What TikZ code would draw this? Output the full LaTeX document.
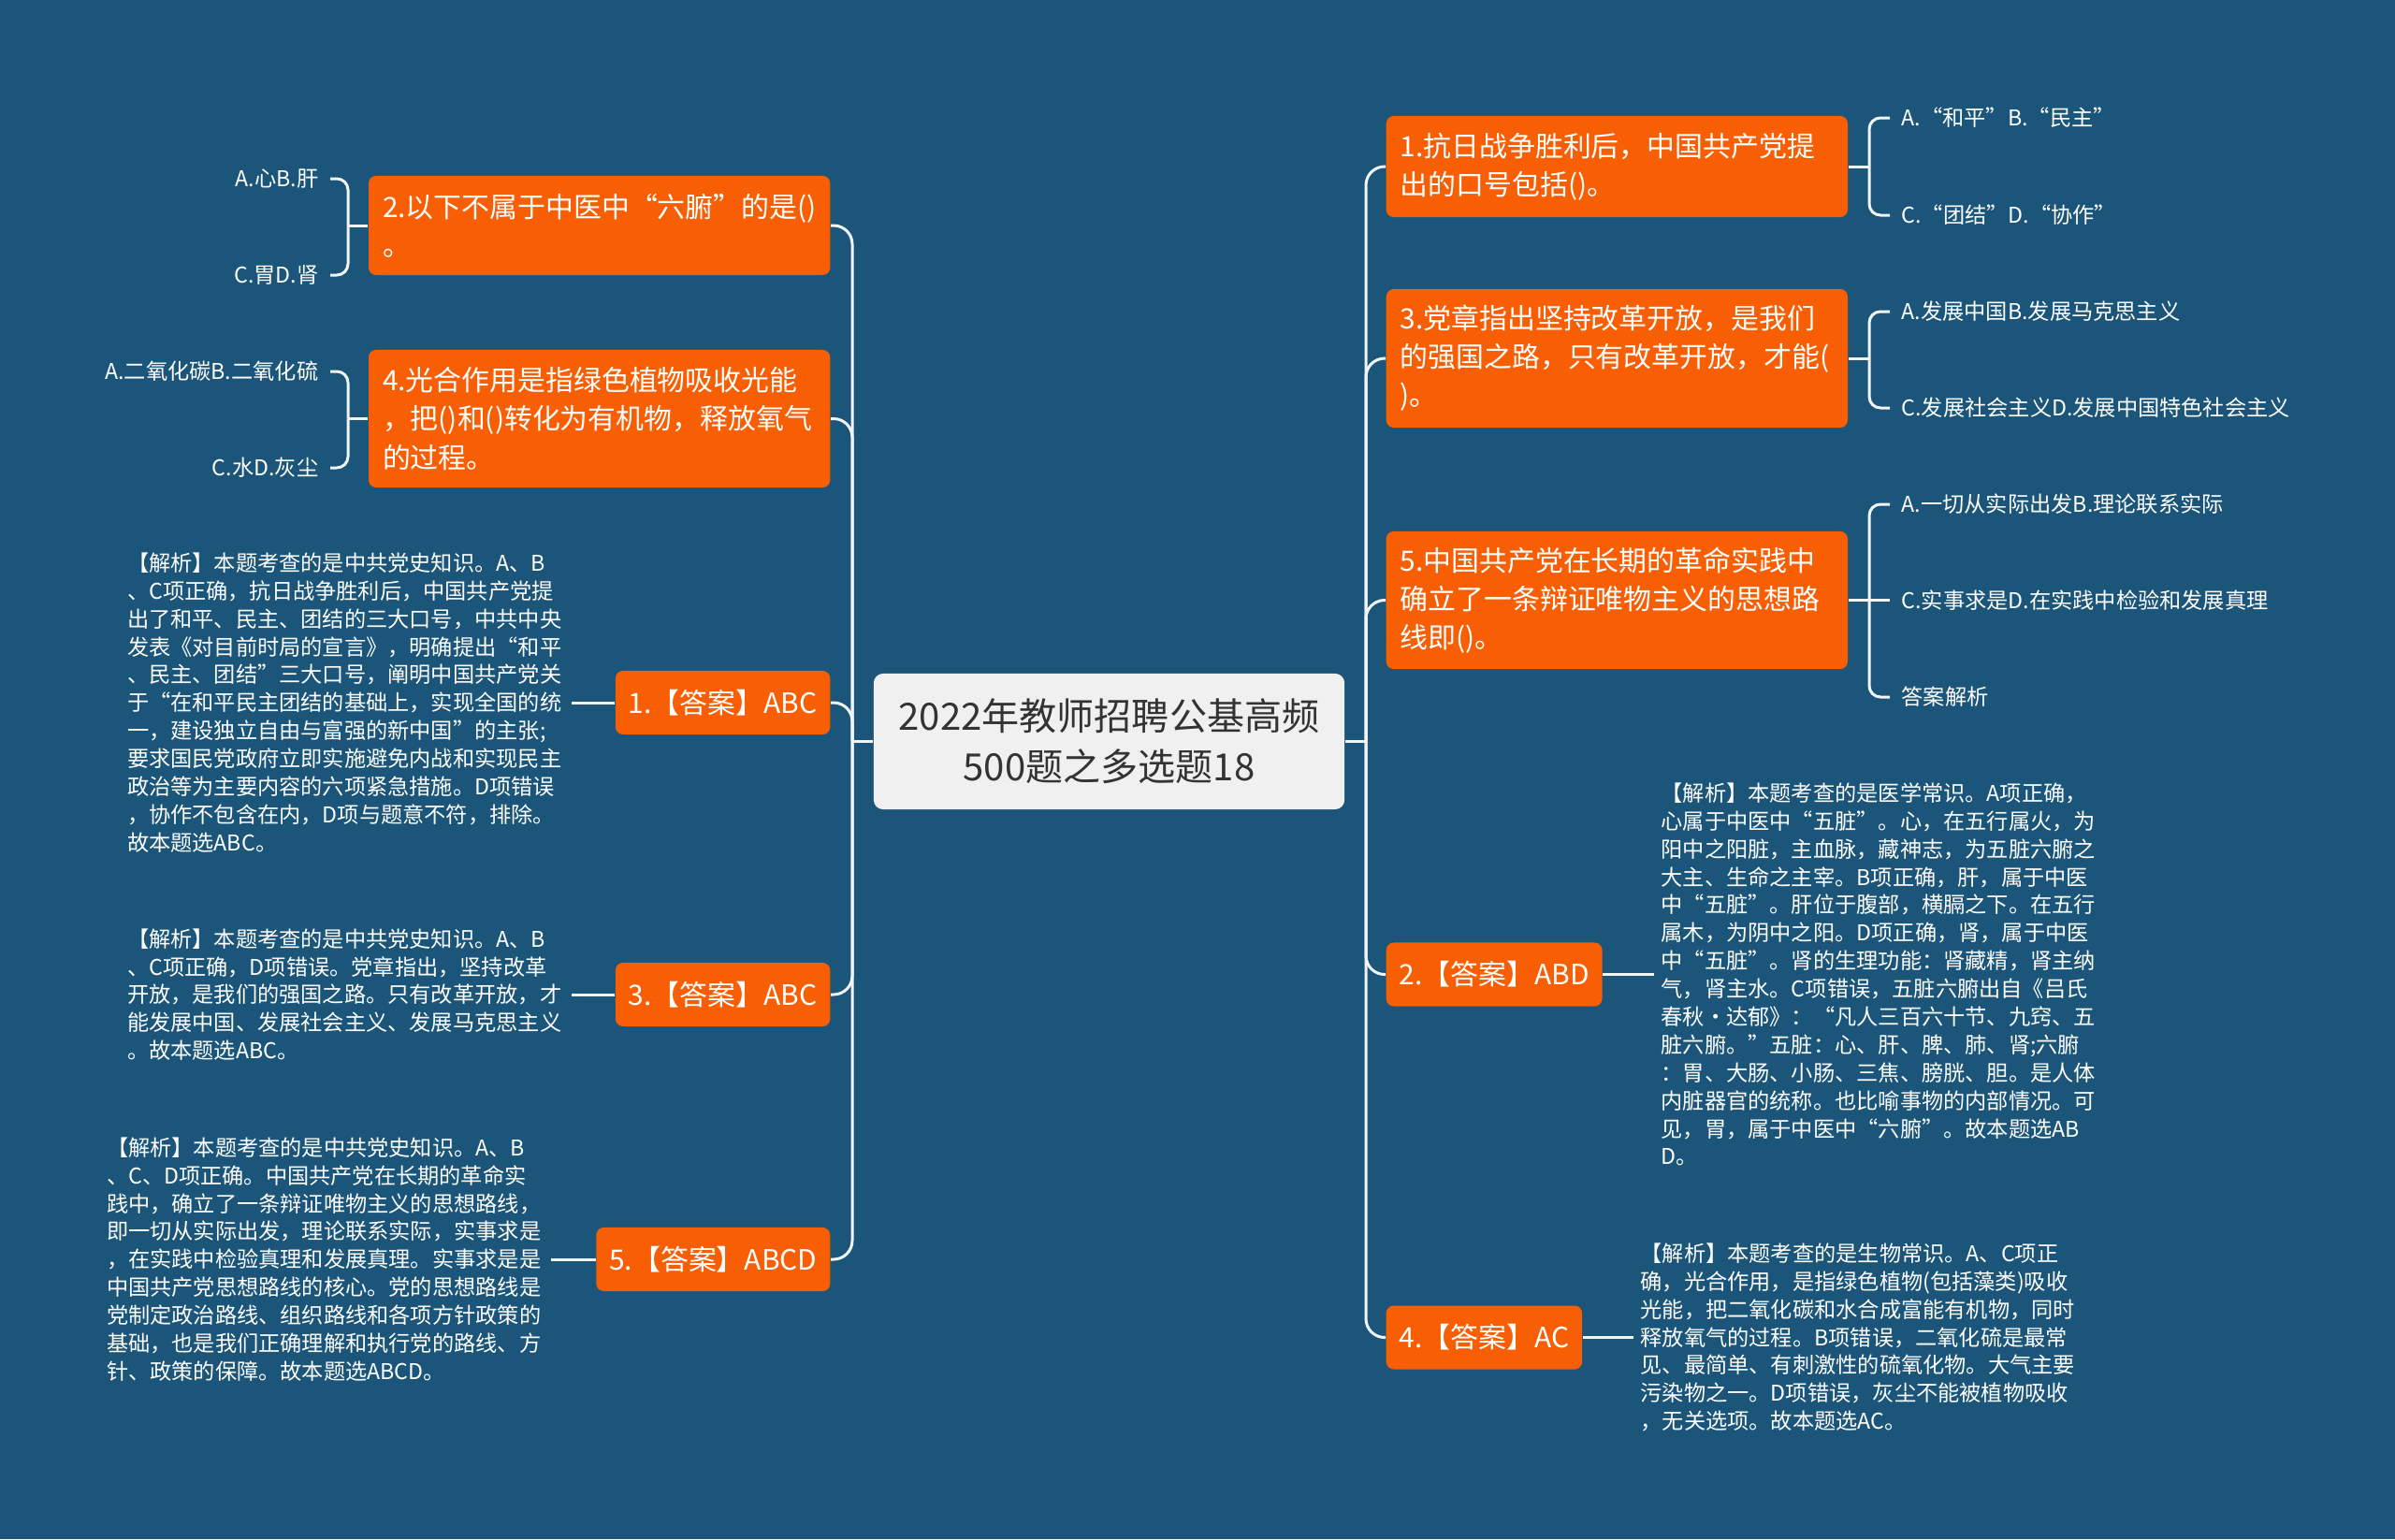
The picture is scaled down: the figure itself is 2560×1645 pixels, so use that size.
\documentclass[tikz,border=0pt]{standalone}
\usepackage{fontspec}
\setmainfont{Noto Sans CJK SC}
\usepackage{tikz}
\usetikzlibrary{positioning}
\usepackage{xcolor}

\definecolor{bgblue}{HTML}{1B5579}
\definecolor{qorange}{HTML}{F85F05}
\definecolor{topicgray}{HTML}{F0F0F0}
\definecolor{topictext}{HTML}{333333}
\definecolor{linewhite}{HTML}{F2F5F8}

\newcommand{\mmTopicFont}{\fontsize{11.4pt}{15.4pt}\selectfont}
\newcommand{\mmBoxFont}{\fontsize{8.5pt}{11.7pt}\selectfont}
\newcommand{\mmNoteFont}{\fontsize{6.6pt}{8.5pt}\selectfont}

\tikzset{
  topic/.style={fill=topicgray, text=topictext, rounded corners=1mm, align=center,
    minimum width=50.3mm, minimum height=14.5mm, font=\mmTopicFont},
  qbox/.style={fill=qorange, text=white, rounded corners=0.8mm, align=left,
    text width=46.3mm, inner xsep=1.5mm, inner ysep=1mm, font=\mmBoxFont},
  abox/.style={fill=qorange, text=white, rounded corners=0.8mm,
    inner xsep=1.4mm, minimum height=6.8mm, font=\mmBoxFont},
  opt/.style={text=white, inner xsep=1.2mm, inner ysep=0pt, font=\mmNoteFont},
  note/.style={text=white, align=left, text width=46.7mm, inner xsep=0.7mm, font=\mmNoteFont},
  link/.style={draw=linewhite, line width=0.3mm, rounded corners=2mm},
  brace/.style={link, rounded corners=1.2mm}
}

\begin{document}
\begin{tikzpicture}[x=0.01cm, y=-0.01cm]

  % Background
\fill[bgblue] (0,0) rectangle (2560,1645);
\useasboundingbox (0,0) rectangle (2560,1645);

  % Central topic
\node[topic] (root) at (1185.5, 792.5) {2022年教师招聘公基高频\\500题之多选题18};

  % Left branch nodes
\node[qbox, anchor=east, minimum height=10.6mm] (q2) at (888, 241) {2.以下不属于中医中“六腑”的是()\\。};
\node[qbox, anchor=east, minimum height=14.7mm] (q4) at (888, 447.5) {4.光合作用是指绿色植物吸收光能\\，把()和()转化为有机物，释放氧气\\的过程。};
\node[abox, anchor=east] (a1) at (888, 751) {1.【答案】ABC};
\node[abox, anchor=east] (a3) at (888, 1063) {3.【答案】ABC};
\node[abox, anchor=east] (a5) at (888, 1346) {5.【答案】ABCD};

  % Right branch nodes
\node[qbox, anchor=west, minimum height=10.8mm] (q1) at (1481, 178) {1.抗日战争胜利后，中国共产党提\\出的口号包括()。};
\node[qbox, anchor=west, minimum height=14.8mm] (q3) at (1481, 383) {3.党章指出坚持改革开放，是我们\\的强国之路，只有改革开放，才能(\\)。};
\node[qbox, anchor=west, minimum height=14.7mm] (q5) at (1481, 641.5) {5.中国共产党在长期的革命实践中\\确立了一条辩证唯物主义的思想路\\线即()。};
\node[abox, anchor=west] (a2) at (1481, 1041.5) {2.【答案】ABD};
\node[abox, anchor=west] (a4) at (1481, 1429.5) {4.【答案】AC};

  % Options
\node[opt, anchor=east] (q2a) at (353, 191) {A.心B.肝};
\node[opt, anchor=east] (q2c) at (353, 294) {C.胃D.肾};
\node[opt, anchor=east] (q4a) at (353, 397) {A.二氧化碳B.二氧化硫};
\node[opt, anchor=east] (q4c) at (353, 500) {C.水D.灰尘};
\node[opt, anchor=west] (q1a) at (2020, 126) {A.“和平”B.“民主”};
\node[opt, anchor=west] (q1c) at (2020, 230) {C.“团结”D.“协作”};
\node[opt, anchor=west] (q3a) at (2020, 333) {A.发展中国B.发展马克思主义};
\node[opt, anchor=west] (q3c) at (2020, 436) {C.发展社会主义D.发展中国特色社会主义};
\node[opt, anchor=west] (q5a) at (2020, 539) {A.一切从实际出发B.理论联系实际};
\node[opt, anchor=west] (q5c) at (2020, 641.5) {C.实事求是D.在实践中检验和发展真理};
\node[opt, anchor=west] (q5e) at (2020, 745) {答案解析};

  % Explanations
\node[note, anchor=east] (e1) at (611, 751) {【解析】本题考查的是中共党史知识。A、B\\、C项正确，抗日战争胜利后，中国共产党提\\出了和平、民主、团结的三大口号，中共中央\\发表《对目前时局的宣言》，明确提出“和平\\、民主、团结”三大口号，阐明中国共产党关\\于“在和平民主团结的基础上，实现全国的统\\一，建设独立自由与富强的新中国”的主张;\\要求国民党政府立即实施避免内战和实现民主\\政治等为主要内容的六项紧急措施。D项错误\\，协作不包含在内，D项与题意不符，排除。\\故本题选ABC。};
\node[note, anchor=east] (e3) at (611, 1063) {【解析】本题考查的是中共党史知识。A、B\\、C项正确，D项错误。党章指出，坚持改革\\开放，是我们的强国之路。只有改革开放，才\\能发展中国、发展社会主义、发展马克思主义\\。故本题选ABC。};
\node[note, anchor=east] (e5) at (589, 1346) {【解析】本题考查的是中共党史知识。A、B\\、C、D项正确。中国共产党在长期的革命实\\践中，确立了一条辩证唯物主义的思想路线，\\即一切从实际出发，理论联系实际，实事求是\\，在实践中检验真理和发展真理。实事求是是\\中国共产党思想路线的核心。党的思想路线是\\党制定政治路线、组织路线和各项方针政策的\\基础，也是我们正确理解和执行党的路线、方\\针、政策的保障。故本题选ABCD。};
\node[note, anchor=west] (e2) at (1768, 1041.5) {【解析】本题考查的是医学常识。A项正确，\\心属于中医中“五脏”。心，在五行属火，为\\阳中之阳脏，主血脉，藏神志，为五脏六腑之\\大主、生命之主宰。B项正确，肝，属于中医\\中“五脏”。肝位于腹部，横膈之下。在五行\\属木，为阴中之阳。D项正确，肾，属于中医\\中“五脏”。肾的生理功能：肾藏精，肾主纳\\气，肾主水。C项错误，五脏六腑出自《吕氏\\春秋·达郁》：“凡人三百六十节、九窍、五\\脏六腑。”五脏：心、肝、脾、肺、肾;六腑\\：胃、大肠、小肠、三焦、膀胱、胆。是人体\\内脏器官的统称。也比喻事物的内部情况。可\\见，胃，属于中医中“六腑”。故本题选AB\\D。};
\node[note, anchor=west] (e4) at (1746, 1429.5) {【解析】本题考查的是生物常识。A、C项正\\确，光合作用，是指绿色植物(包括藻类)吸收\\光能，把二氧化碳和水合成富能有机物，同时\\释放氧气的过程。B项错误，二氧化硫是最常\\见、最简单、有刺激性的硫氧化物。大气主要\\污染物之一。D项错误，灰尘不能被植物吸收\\，无关选项。故本题选AC。};

  % Trunks
\coordinate (lj) at (911, 792.5); \coordinate (rj) at (1460, 792.5);
\draw[link] (root.west) -- (lj);
\draw[link] (root.east) -- (rj);
\foreach \n in {q2,q4,a1,a3,a5} { \draw[link] (lj) |- (\n.east); }
\foreach \n in {q1,q3,q5,a2,a4} { \draw[link] (rj) |- (\n.west); }

  % Option braces
\coordinate (q2j) at (372, 241); \coordinate (q4j) at (372, 447.5);
\coordinate (q1j) at (1998, 178); \coordinate (q3j) at (1998, 383); \coordinate (q5j) at (1998, 641.5);
\draw[link] (q2.west) -- (q2j); \draw[brace] (q2j) |- (q2a.east); \draw[brace] (q2j) |- (q2c.east);
\draw[link] (q4.west) -- (q4j); \draw[brace] (q4j) |- (q4a.east); \draw[brace] (q4j) |- (q4c.east);
\draw[link] (q1.east) -- (q1j); \draw[brace] (q1j) |- (q1a.west); \draw[brace] (q1j) |- (q1c.west);
\draw[link] (q3.east) -- (q3j); \draw[brace] (q3j) |- (q3a.west); \draw[brace] (q3j) |- (q3c.west);
\draw[link] (q5.east) -- (q5j); \draw[brace] (q5j) |- (q5a.west); \draw[link] (q5j) -- (q5c.west); \draw[brace] (q5j) |- (q5e.west);

  % Answer to explanation
\draw[link] (e1.east) -- (a1.west); \draw[link] (e3.east) -- (a3.west); \draw[link] (e5.east) -- (a5.west);
\draw[link] (a2.east) -- (e2.west); \draw[link] (a4.east) -- (e4.west);

\end{tikzpicture}
\end{document}
